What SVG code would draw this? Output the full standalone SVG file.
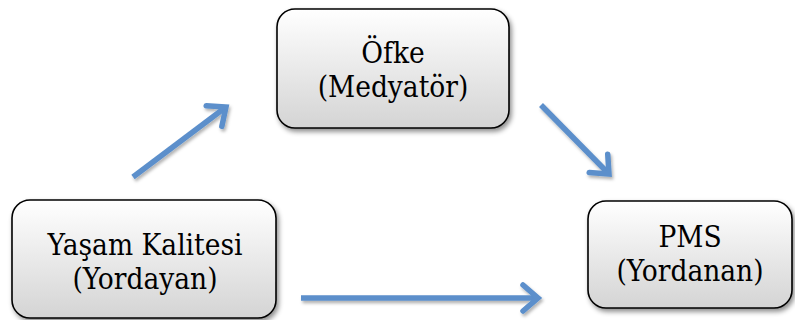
<svg xmlns="http://www.w3.org/2000/svg" width="795" height="320" viewBox="0 0 795 320">
<defs>
<linearGradient id="boxgrad" x1="0" y1="0" x2="0" y2="1">
<stop offset="0" stop-color="#ffffff"/>
<stop offset="1" stop-color="#d4d4d4"/>
</linearGradient>
<filter id="shadow" x="-10%" y="-10%" width="130%" height="140%">
<feDropShadow dx="2" dy="3" stdDeviation="2.5" flood-color="#000" flood-opacity="0.45"/>
</filter>
<filter id="ashadow" filterUnits="userSpaceOnUse" x="0" y="0" width="795" height="320">
<feDropShadow dx="1.5" dy="2.5" stdDeviation="1.5" flood-color="#000" flood-opacity="0.3"/>
</filter>
<marker id="head" markerUnits="userSpaceOnUse" markerWidth="40" markerHeight="40" refX="0" refY="0" viewBox="-20 -20 40 40" orient="auto" overflow="visible">
<path d="M-15,-13 L0,0 L-15,13" fill="none" stroke="#5B8FCB" stroke-width="5.5" stroke-linecap="round" stroke-linejoin="miter"/>
</marker>
<style>
.box{fill:url(#boxgrad);stroke:#000;stroke-width:1.6;filter:url(#shadow);}
.lbl{font-family:'DejaVu Serif Condensed','DejaVu Serif',serif;font-stretch:condensed;font-size:29.5px;fill:#000;text-anchor:middle;}
.arrow{stroke:#5B8FCB;stroke-width:5.5;fill:none;stroke-linecap:butt;marker-end:url(#head);filter:url(#ashadow);}
</style>
</defs>
<g id="connectors">
<line class="arrow" x1="133" y1="177" x2="226" y2="107"/>
<line class="arrow" x1="541" y1="105" x2="609" y2="174"/>
<line class="arrow" x1="301" y1="298" x2="538" y2="298"/>
</g>
<g id="node-ofke">
<rect class="box" x="277" y="9" width="232" height="119" rx="18"/>
<text class="lbl" x="393" y="63">Öfke</text>
<text class="lbl" x="393" y="97">(Medyatör)</text>
</g>
<g id="node-yasam">
<rect class="box" x="12" y="200" width="264" height="118" rx="18"/>
<text class="lbl" x="145" y="255">Yaşam Kalitesi</text>
<text class="lbl" x="145" y="289">(Yordayan)</text>
</g>
<g id="node-pms">
<rect class="box" x="588" y="201" width="204" height="107" rx="18"/>
<text class="lbl" x="690" y="247">PMS</text>
<text class="lbl" x="690" y="281">(Yordanan)</text>
</g>
</svg>
